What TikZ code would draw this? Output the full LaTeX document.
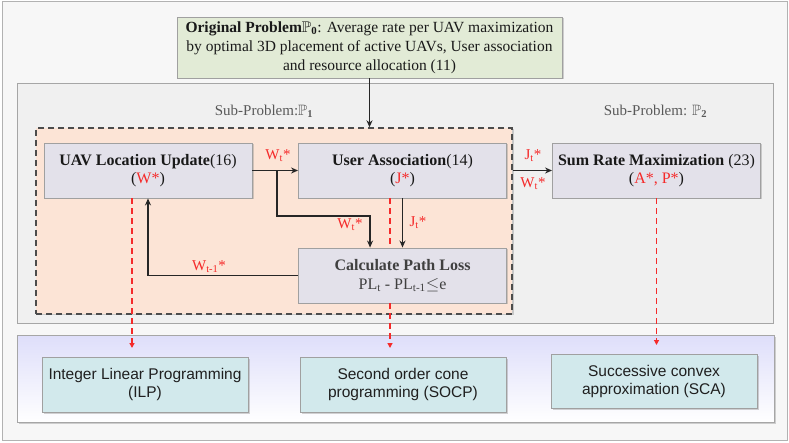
\documentclass[tikz,border=0pt]{standalone}
\usepackage{fontspec}
\usepackage{amssymb}
\setmainfont{Liberation Serif}
\setsansfont{Liberation Sans}
\usetikzlibrary{arrows.meta,shadows,calc}
\definecolor{redl}{HTML}{F52A2A}
\definecolor{boxfill}{HTML}{E3E1EA}
\definecolor{boxline}{HTML}{A0A0A0}
\definecolor{greenfill}{HTML}{E2EBD6}
\definecolor{peach}{HTML}{FCE4D6}
\definecolor{cyanfill}{HTML}{D2E9EC}
\definecolor{lav}{HTML}{DEDEFA}
\tikzset{
  shd/.style={drop shadow={shadow xshift=1.5pt,shadow yshift=-1.5pt,opacity=0.35,fill=gray}},
  pbox/.style={draw=boxline,line width=0.9pt,fill=boxfill,shd,minimum width=208pt,minimum height=55pt,
    align=center,inner sep=0pt,font=\fontsize{16}{17.5}\selectfont,text=black!90},
  sbox/.style={draw=boxline,line width=0.9pt,fill=cyanfill,shd,minimum width=206pt,minimum height=55pt,
    align=center,inner sep=0pt,font=\sffamily\fontsize{15.5}{18}\selectfont,text=black!88},
  arr/.style={line width=1.3pt,black!85,line join=miter,-{Stealth[length=7pt,width=6pt]}},
  rdash/.style={line width=1.4pt,redl,dash pattern=on 6pt off 4pt,-{Triangle[length=5pt,width=5pt]}},
  rdashn/.style={line width=1.4pt,redl,dash pattern=on 6pt off 4pt},
  lbl/.style={text=redl,font=\fontsize{15}{17}\selectfont,inner sep=0pt},
  sublbl/.style={text=black!65,font=\fontsize{15}{17}\selectfont,inner sep=0pt}
}
\newcommand{\rd}[1]{\textcolor{redl}{#1}}
\begin{document}
\begin{tikzpicture}[x=1pt,y=-1pt]
\useasboundingbox (0,0) rectangle (789,443);
% outer frame
\draw[draw=black!30,fill=black!3,line width=1pt] (2,2) rectangle (787,440);
% sub-problem panel
\draw[draw=black!35,fill=black!6,line width=1pt] (17,84) rectangle (773,323);
% dashed box
\node[draw=black!70,fill=peach,line width=1.4pt,dash pattern=on 6pt off 4pt,shd,
      minimum width=476pt,minimum height=186pt,inner sep=0pt] (dashbox) at (274,221) {};
% bottom panel
\node[draw=black!35,line width=1pt,top color=lav,bottom color=white,shd,
      minimum width=757pt,minimum height=87pt,inner sep=0pt] (botpanel) at (395.5,378.5) {};
% labels
\node[sublbl] (sp1) at (264,111) {Sub-Problem:$\mathbb{P}_{\mathbf{1}}$};
\node[sublbl] (sp2) at (655.5,111) {Sub-Problem: $\mathbb{P}_{\mathbf{2}}$};
% top box
\node[draw=boxline,line width=0.9pt,fill=greenfill,shd,minimum width=385pt,minimum height=61pt,
      align=center,inner sep=0pt,font=\fontsize{15.5}{19}\selectfont,text=black!90] (top) at (369.5,47.5)
  {\textbf{Original Problem}$\mathbb{P}_{\mathbf{0}}$: Average rate per UAV maximization\\
   by optimal 3D placement of active UAVs, User association\\
   and resource allocation (11)};
% process boxes
\node[pbox] (uav) at (148,170.5) {\textbf{UAV Location Update}(16)\\(\rd{W*})};
\node[pbox] (ua) at (402.5,170.5) {\textbf{User Association}(14)\\(\rd{J*})};
\node[pbox,text=black!75,font=\fontsize{16}{19}\selectfont] (cpl) at (402.5,275.5) {\textbf{Calculate Path Loss}\\PL\textsubscript{t} - PL\textsubscript{t-1}$\leq$e};
\node[pbox] (sum) at (656.5,170.5) {\textbf{Sum Rate Maximization} (23)\\(\rd{A*, P*})};
% solver boxes
\node[sbox] (ilp) at (145,384.5) {Integer Linear Programming\\(ILP)};
\node[sbox] (socp) at (403,384.5) {Second order cone\\programming (SOCP)};
\node[sbox,minimum height=54pt] (sca) at (654,381) {Successive convex\\approximation (SCA)};
% coordinates
\coordinate (br) at (277,170.5);
\coordinate (uavend) at (132,348);
\coordinate (socpend) at (390,348);
\coordinate (scaend) at (656.5,345);
% black arrows
\draw[arr] (top.south) -- (top.south |- dashbox.north);
\draw[arr] (uav.east) -- (ua.west);
\draw[arr] (br) -- (277,216) -| ($(cpl.north west)+(72,0)$);
\draw[arr] (ua.south) -- (cpl.north);
\draw[arr] (cpl.west) -| (uav.south);
\draw[arr] (dashbox.east |- sum.west) -- (sum.west);
% red dashed
\draw[rdash] ($(uav.south)+(-16,0)$) -- (uavend);
\draw[rdashn] ($(ua.south)+(-12.5,0)$) -- ($(cpl.north)+(-12.5,0)$);
\draw[rdash] ($(cpl.south)+(-12.5,0)$) -- (socpend);
\draw[rdash] (sum.south) -- (scaend);
% red labels
\node[lbl] (l1) at (278,156) {W\textsubscript{t}*};
\node[lbl] (l2) at (350,225) {W\textsubscript{t}*};
\node[lbl] (l3) at (418,223) {J\textsubscript{t}*};
\node[lbl] (l4) at (209,267) {W\textsubscript{t-1}*};
\node[lbl] (l5) at (533,156) {J\textsubscript{t}*};
\node[lbl] (l6) at (533,184) {W\textsubscript{t}*};
\end{tikzpicture}
\end{document}
